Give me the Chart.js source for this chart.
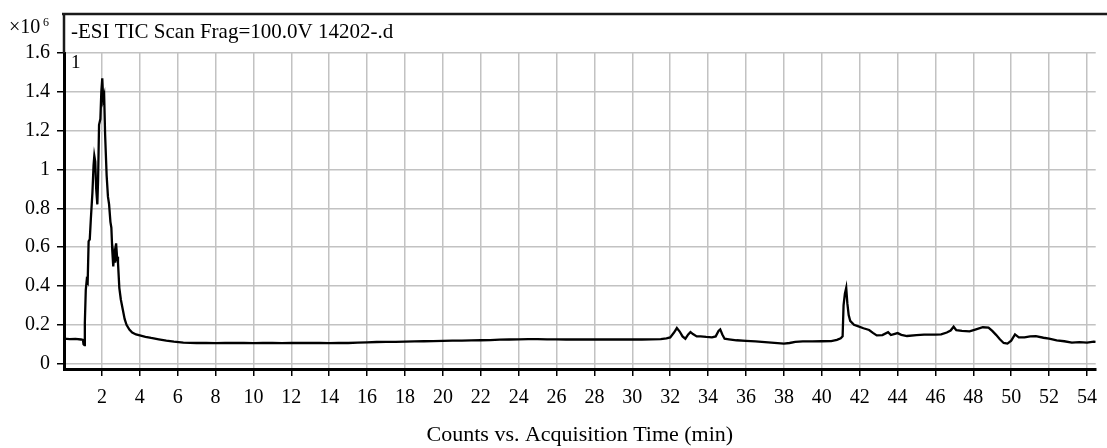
<!DOCTYPE html>
<html>
<head>
<meta charset="utf-8">
<script src="https://cdn.jsdelivr.net/npm/chart.js@4/dist/chart.umd.min.js"></script>
<style>
  html, body { margin: 0; padding: 0; background: #fff; }
  #wrap { position: relative; width: 1107px; height: 448px; }
</style>
</head>
<body>
<div id="wrap"><canvas id="tic"></canvas></div>
<script>
// acquisition time (min) and counts (x10^6)
const times = [
  0, 0.3, 0.6, 0.9, 1.0, 1.03, 1.08, 1.1, 1.15, 1.2, 1.25, 1.3, 1.36, 1.42, 1.5,
  1.56, 1.6, 1.65, 1.7, 1.76, 1.8, 1.85, 1.92, 1.97, 2.02, 2.07, 2.12, 2.17, 2.25,
  2.32, 2.38, 2.45, 2.5, 2.55, 2.6, 2.65, 2.7, 2.75, 2.8, 2.85, 2.92, 3.0, 3.1,
  3.2, 3.3, 3.45, 3.6, 3.8, 4.0, 4.3, 4.6, 5.0, 5.4, 5.8, 6.3, 7.0, 7.5, 8.0, 8.5,
  9.0, 9.5, 10.0, 10.5, 11.0, 11.5, 12.0, 12.5, 13.0, 13.5, 14.0, 14.5, 15.0, 15.5,
  16.0, 16.5, 17.0, 17.5, 18.0, 18.5, 19.0, 19.5, 20.0, 20.5, 21.0, 21.5, 22.0,
  22.5, 23.0, 23.5, 24.0, 24.5, 25.0, 25.5, 26.0, 26.5, 27.0, 27.5, 28.0, 28.5,
  29.0, 29.5, 30.0, 30.5, 31.0, 31.5, 31.8, 32.0, 32.2, 32.35, 32.5, 32.65, 32.8,
  32.95, 33.07, 33.2, 33.4, 33.6, 33.9, 34.2, 34.4, 34.55, 34.64, 34.75, 34.87,
  35.1, 35.5, 36.0, 36.5, 37.0, 37.5, 38.0, 38.3, 38.6, 39.0, 39.5, 40.0, 40.5,
  40.8, 41.0, 41.1, 41.15, 41.22, 41.29, 41.35, 41.42, 41.5, 41.7, 41.9, 42.2,
  42.5, 42.7, 42.9, 43.2, 43.5, 43.65, 44.0, 44.2, 44.5, 45.0, 45.4, 46.0, 46.3,
  46.6, 46.8, 46.96, 47.1, 47.4, 47.8, 48.1, 48.5, 48.8, 49.0, 49.2, 49.4, 49.6,
  49.8, 50.0, 50.2, 50.4, 50.7, 51.0, 51.3, 51.7, 52.0, 52.4, 52.8, 53.2, 53.6,
  54.0, 54.36, 54.46
];
const counts = [
  0.128, 0.126, 0.127, 0.124, 0.122, 0.100, 0.095, 0.21, 0.38, 0.43, 0.42, 0.63, 0.64, 0.75, 0.88,
  1.02, 1.07, 1.04, 0.90, 0.82, 0.95, 1.23, 1.26, 1.40, 1.47, 1.36, 1.38, 1.18, 0.97,
  0.86, 0.82, 0.73, 0.70, 0.58, 0.50, 0.56, 0.52, 0.62, 0.55, 0.52, 0.39, 0.33, 0.28,
  0.23, 0.20, 0.175, 0.16, 0.15, 0.145, 0.138, 0.132, 0.125, 0.118, 0.113, 0.108, 0.106, 0.107, 0.105, 0.107,
  0.106, 0.107, 0.105, 0.106, 0.107, 0.105, 0.106, 0.107, 0.106, 0.107, 0.105, 0.107, 0.106, 0.108,
  0.109, 0.111, 0.112, 0.112, 0.113, 0.114, 0.115, 0.116, 0.117, 0.118, 0.118, 0.119, 0.120,
  0.121, 0.123, 0.124, 0.125, 0.126, 0.126, 0.125, 0.125, 0.124, 0.125, 0.124, 0.124, 0.125,
  0.124, 0.124, 0.124, 0.124, 0.125, 0.126, 0.130, 0.135, 0.160, 0.183, 0.165, 0.140, 0.128,
  0.150, 0.162, 0.152, 0.140, 0.140, 0.137, 0.135, 0.140, 0.168, 0.176, 0.150, 0.128,
  0.125, 0.120, 0.117, 0.114, 0.110, 0.107, 0.103, 0.106, 0.112, 0.114, 0.114, 0.115, 0.116,
  0.122, 0.130, 0.140, 0.300, 0.360, 0.390, 0.310, 0.250, 0.220, 0.200, 0.193, 0.182,
  0.173, 0.158, 0.145, 0.147, 0.162, 0.147, 0.157, 0.148, 0.142, 0.146, 0.149, 0.149, 0.150,
  0.160, 0.170, 0.190, 0.172, 0.168, 0.166, 0.175, 0.187, 0.185, 0.168, 0.148, 0.125, 0.106,
  0.103, 0.118, 0.150, 0.135, 0.135, 0.140, 0.141, 0.133, 0.128, 0.120, 0.115, 0.108, 0.110,
  0.108, 0.113, 0.112
];
const xTicks = [2, 4, 6, 8, 10, 12, 14, 16, 18, 20, 22, 24, 26, 28, 30, 32, 34, 36, 38, 40, 42, 44, 46, 48, 50, 52, 54];
const yTicks = [0, 0.2, 0.4, 0.6, 0.8, 1, 1.2, 1.4, 1.6];

const titleText = '-ESI TIC Scan Frag=100.0V 14202-.d';
const xTitle = 'Counts vs. Acquisition Time (min)';
const serif = "'Liberation Serif', 'Times New Roman', serif";

// frame box + header texts above the plot
const headerPlugin = {
  id: 'header',
  afterDraw(chart) {
    const { ctx, chartArea } = chart;
    const top = chartArea.top - 39;
    ctx.save();
    ctx.strokeStyle = '#1a1a1a';
    ctx.lineWidth = 2.5;
    ctx.beginPath();
    ctx.moveTo(chartArea.left - 2, top);
    ctx.lineTo(chart.width, top);
    ctx.moveTo(chartArea.left, top);
    ctx.lineTo(chartArea.left, chartArea.top);
    ctx.stroke();

    ctx.fillStyle = '#000';
    ctx.textBaseline = 'alphabetic';
    ctx.textAlign = 'left';
    ctx.font = '21px ' + serif;
    ctx.fillText(titleText, chartArea.left + 7, chartArea.top - 15);

    ctx.font = '20px ' + serif;
    ctx.fillText('\u00d710', 9, chartArea.top - 20);
    ctx.font = '12px ' + serif;
    ctx.fillText('6', 43, chartArea.top - 27);

    ctx.font = '19px ' + serif;
    ctx.fillText('1', chartArea.left + 7, chartArea.top + 15);
    ctx.restore();
  }
};

new Chart(document.getElementById('tic'), {
  type: 'line',
  data: {
    datasets: [{
      label: 'TIC',
      data: times.map((t, i) => ({ x: t, y: counts[i] })),
      borderColor: '#000',
      borderWidth: 2.3,
      pointRadius: 0,
      tension: 0,
      fill: false
    }]
  },
  options: {
    responsive: true,
    maintainAspectRatio: false,
    animation: false,
    layout: {
      autoPadding: false,
      padding: { top: 53, left: 0, right: 0, bottom: 0 }
    },
    plugins: {
      legend: { display: false },
      tooltip: { enabled: false }
    },
    scales: {
      x: {
        type: 'linear',
        min: 0,
        max: 54.46,
        afterFit: scale => { scale.height = 79; },
        afterBuildTicks: scale => { scale.ticks = xTicks.map(v => ({ value: v })); },
        grid: {
          color: '#c2c2c2',
          lineWidth: 1.5,
          tickColor: '#000',
          tickLength: 7,
          tickWidth: 1.5
        },
        border: { color: '#000', width: 3 },
        ticks: {
          color: '#000',
          padding: 10,
          maxRotation: 0,
          autoSkip: false,
          font: { family: serif, size: 20 },
          callback: v => String(v)
        },
        title: {
          display: true,
          text: xTitle,
          color: '#000',
          font: { family: serif, size: 22 },
          padding: { top: 0, bottom: 0 }
        }
      },
      y: {
        min: -0.028,
        max: 1.6,
        afterFit: scale => { scale.width = 64; },
        afterBuildTicks: scale => { scale.ticks = yTicks.map(v => ({ value: v })); },
        grid: {
          color: '#c2c2c2',
          lineWidth: 1.5,
          tickColor: '#000',
          tickLength: 7,
          tickWidth: 1.5
        },
        border: { color: '#000', width: 3 },
        ticks: {
          color: '#000',
          padding: 7,
          font: { family: serif, size: 20 },
          callback: v => String(v)
        }
      }
    }
  },
  plugins: [headerPlugin]
});
</script>
</body>
</html>
